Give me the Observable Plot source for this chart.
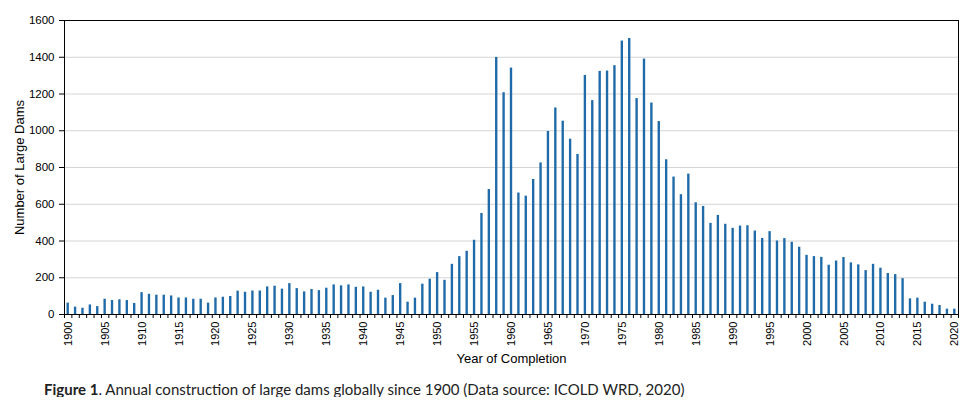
<!DOCTYPE html>
<html>
<head>
<meta charset="utf-8">
<script src="https://cdn.jsdelivr.net/npm/d3@7"></script>
<script src="https://cdn.jsdelivr.net/npm/@observablehq/plot@0.6"></script>
<style>
  body { margin: 0; background: #fff; }
  #chart svg { display: block; font-family: "Liberation Sans", Arial, sans-serif !important; }
  #chart svg text { font-family: "Liberation Sans", Arial, sans-serif; }
  #caption {
    font-family: Lato, "Open Sans", sans-serif;
    font-size: 15px;
    color: #222;
    margin: 0;
    padding-left: 44px;
    padding-top: 13px;
    line-height: 16px;
  }
</style>
</head>
<body>
<div id="chart"></div>
<div id="caption"><b>Figure 1</b>. Annual construction of large dams globally since 1900 (Data source: ICOLD WRD, 2020)</div>
<script>
const years = [
  1900,1901,1902,1903,1904,1905,1906,1907,1908,1909,
  1910,1911,1912,1913,1914,1915,1916,1917,1918,1919,
  1920,1921,1922,1923,1924,1925,1926,1927,1928,1929,
  1930,1931,1932,1933,1934,1935,1936,1937,1938,1939,
  1940,1941,1942,1943,1944,1945,1946,1947,1948,1949,
  1950,1951,1952,1953,1954,1955,1956,1957,1958,1959,
  1960,1961,1962,1963,1964,1965,1966,1967,1968,1969,
  1970,1971,1972,1973,1974,1975,1976,1977,1978,1979,
  1980,1981,1982,1983,1984,1985,1986,1987,1988,1989,
  1990,1991,1992,1993,1994,1995,1996,1997,1998,1999,
  2000,2001,2002,2003,2004,2005,2006,2007,2008,2009,
  2010,2011,2012,2013,2014,2015,2016,2017,2018,2019,
  2020
];
const counts = [
  62,40,34,52,43,83,76,80,76,60,
  119,110,105,105,101,90,90,83,83,62,
  90,94,98,127,121,128,128,150,154,138,
  168,141,123,136,130,143,161,156,161,148,
  150,121,132,89,103,168,67,89,165,192,
  228,186,273,315,344,404,550,680,1399,1207,
  1341,661,644,735,825,996,1124,1052,954,871,
  1301,1164,1323,1325,1354,1488,1502,1175,1390,1151,
  1050,842,748,652,764,608,588,496,539,491,
  469,481,483,454,414,451,400,413,393,366,
  322,315,311,268,291,310,281,270,239,273,
  252,223,217,195,85,89,67,56,49,29,
  29
];
const yTicks = [0,200,400,600,800,1000,1200,1400,1600];
const xLabelYears = [1900,1905,1910,1915,1920,1925,1930,1935,1940,1945,1950,1955,1960,1965,1970,1975,1980,1985,1990,1995,2000,2005,2010,2015,2020];
const yTitle = "Number of Large Dams";
const xTitle = "Year of Completion";

const data = years.map((year, i) => ({year, count: counts[i]}));
const boundaries = years.map(y => y - 0.5).concat([years[years.length - 1] + 0.5]);

const chart = Plot.plot({
  width: 966,
  height: 368,
  marginLeft: 64,
  marginRight: 8,
  marginTop: 20,
  marginBottom: 54,
  style: {fontFamily: "Liberation Sans, Arial, sans-serif", fontSize: "11px", color: "#000", background: "#fff", overflow: "visible"},
  x: {domain: [years[0] - 0.5, years[years.length - 1] + 0.5]},
  y: {domain: [0, 1600]},
  marks: [
    Plot.gridY(yTicks, {stroke: "#d4d4d4", strokeOpacity: 1}),
    Plot.rectY(data, {x1: d => d.year - 0.16, x2: d => d.year + 0.16, y: "count", fill: "#1f6aa8"}),
    Plot.frame({stroke: "#000"}),
    Plot.axisY(yTicks, {tickSize: 5, tickPadding: 5, tickFormat: d => String(d), label: null, stroke: "#000", fontSize: 11.5}),
    Plot.axisX(boundaries, {tickSize: 4, tickFormat: () => "", label: null, stroke: "#000"}),
    Plot.axisX(xLabelYears, {tickSize: 0, tickPadding: 7, tickRotate: -90, tickFormat: d => String(d), label: null, fontSize: 11}),
    Plot.text([yTitle], {frameAnchor: "left", dx: -45, rotate: -90, textAnchor: "middle", lineAnchor: "middle", fontSize: 13, fill: "#000"}),
    Plot.text([xTitle], {frameAnchor: "bottom", dy: 44, textAnchor: "middle", lineAnchor: "middle", fontSize: 13, fill: "#000"})
  ]
});
document.getElementById("chart").appendChild(chart);
</script>
</body>
</html>
